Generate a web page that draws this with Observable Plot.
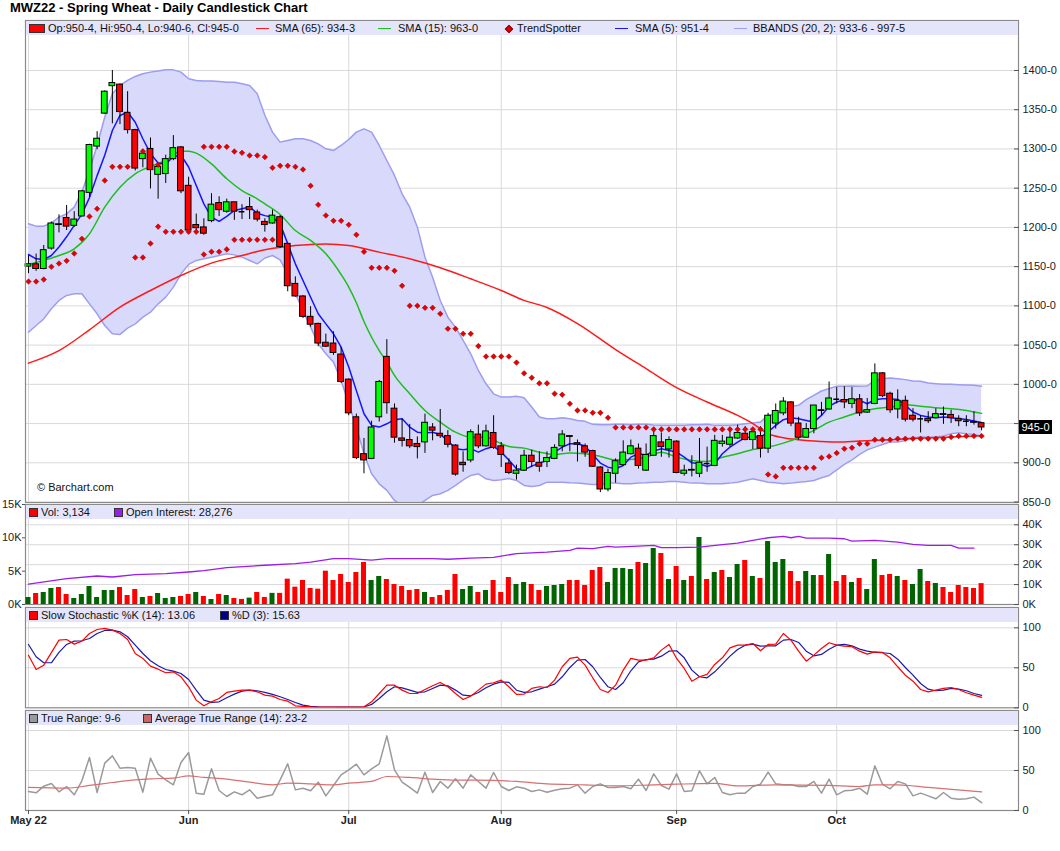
<!DOCTYPE html>
<html><head><meta charset="utf-8">
<script src="https://cdn.jsdelivr.net/npm/d3@7"></script>
<script src="https://cdn.jsdelivr.net/npm/@observablehq/plot@0.6"></script>
<style>
body{margin:0;background:#fff;font-family:"Liberation Sans",Arial,Helvetica,sans-serif;}
#wrap{position:relative;width:1060px;height:851px;overflow:hidden;background:#fff;}
#wrap svg{position:absolute;left:0;top:0;}
.title{position:absolute;left:10px;top:0px;line-height:16px;font-weight:bold;font-size:13px;color:#000;}
.band{position:absolute;left:26px;width:992px;height:14px;background:#e4e4fa;font-size:11px;color:#111;}
.band span{position:absolute;top:0;line-height:14px;white-space:nowrap;}
.band i{position:absolute;display:block;}
.sw{width:7px;height:7px;border:1px solid #333;top:3px;}
.ln{height:1px;top:7px;width:13px;}
.dm{width:4px;height:4px;top:5px;transform:rotate(45deg);background:#e00000;border:0.5px solid #8b0000;}
.tag{position:absolute;left:1019px;width:33px;height:14px;line-height:14px;background:#000;color:#fff;font-size:11px;text-align:center;}
.copy{position:absolute;left:37px;top:481px;font-size:11px;color:#111;}
</style></head>
<body><div id="wrap"></div>
<script>
// ---------- data ----------
const monthIdx = [0, 21, 42, 62, 85, 106];
const monthLabels = ["May 22", "Jun", "Jul", "Aug", "Sep", "Oct"];
const priceTicks = [850, 900, 950, 1000, 1050, 1100, 1150, 1200, 1250, 1300, 1350, 1400];

const open = [1150,1153,1147,1173,1203,1212,1202,1214,1244,1303,
1345,1380,1382,1346,1324,1287,1300,1267,1268,1287,
1302,1253,1203,1200,1208,1231,1220,1232,1220,1226,
1219,1207,1205,1213,1179,1128,1112,1086,1077,1053,
1052,1038,1006,958,911,905,958,1035,969,931,
929,924,926,945,937,934,922,900,903,936,
921,938,921,899,886,890,909,900,901,905,
921,934,925,921,915,894,866,886,897,911,
918,890,909,926,917,927,886,890,886,899,
896,924,923,931,937,929,934,918,950,963,
977,950,932,943,966,968,981,980,975,981,
964,975,1014,988,968,979,960,956,956,957,
961,961,956,953,952,950.5];
const high = [1164,1166,1177,1207,1216,1228,1220,1247,1306,1322,
1374,1400,1383,1373,1325,1299,1314,1281,1292,1317,
1303,1264,1217,1211,1243,1239,1236,1232,1229,1238,
1222,1211,1222,1215,1180,1137,1113,1099,1078,1064,
1067,1047,1007,962,931,953,1005,1057,975,956,
949,933,962,950,968,941,923,914,942,948,
948,960,926,905,897,916,916,914,914,923,
941,934,929,924,916,895,892,905,928,929,
924,924,941,938,933,928,897,909,931,920,
935,935,945,948,946,943,946,963,975,983,
978,958,950,973,977,1003,996,997,996,987,
982,1026,1015,990,993,985,969,960,965,969,
971,967,960,960,965,950.5];
const low = [1141,1144,1146,1171,1193,1196,1200,1213,1238,1299,
1344,1332,1331,1319,1272,1276,1249,1236,1256,1285,
1243,1191,1194,1190,1206,1214,1218,1209,1210,1210,
1207,1194,1204,1173,1118,1111,1084,1073,1048,1047,
1037,1001,960,904,886,904,952,962,925,920,
918,905,912,928,931,919,883,888,900,918,
920,917,894,885,878,889,894,888,894,904,
914,914,901,907,894,862,863,874,896,910,
892,889,908,907,906,886,883,882,881,888,
895,920,920,930,928,917,906,912,943,960,
946,929,931,937,960,967,975,969,969,959,
963,974,983,963,956,952,952,938,950,956,
949,950,946,946,948,940.75];
const close = [1153,1147,1171,1205,1204,1201,1210,1246,1305,1313,
1373,1384,1347,1324,1275,1294,1273,1277,1287,1301,
1246,1196,1199,1192,1229,1222,1232,1220,1220,1222,
1210,1203,1215,1175,1125,1112,1086,1076,1052,1048,
1040,1003,963,906,903,945,1003,976,932,928,
921,920,951,941,934,923,885,897,939,921,
940,919,910,887,890,909,901,895,906,919,
936,933,923,913,895,866,887,902,913,921,
896,910,934,920,929,887,890,891,900,899,
928,927,932,938,929,939,918,960,966,978,
950,932,943,973,967,982,981,977,981,963,
967,1014,985,967,979,955,955,956,953,962,
962,957,953,953,951,945];

const sma5 = [1165.5,1160,1159,1164.2,1175,1188,1202.5,1217,1238,1266,
1292,1323.5,1342.7,1347,1334,1313,1294,1282,1281,1290,
1292,1277,1253.4,1230,1213,1207.6,1214,1221.6,1223.7,1226,
1218,1215,1213,1204.6,1179,1153.6,1132.4,1111,1090,1077,
1064.4,1047.4,1022,992,962.5,947.6,945.5,949.7,955,956,
945.5,939,938,939,936,928.5,918,916.6,918,913.6,
918,920.8,913.6,903.5,892.4,891,895.8,899.6,903,913.6,
920,924.3,924.3,921.3,910.7,899.6,894.5,892.4,896.6,907.2,
911.5,910,914.9,917.9,915.8,913.6,907.2,900,898.7,895.3,
898.7,911.5,920,926.4,932,932.8,932.8,939.2,947.7,954.9,
957.5,956.2,954,951.9,960.4,971.9,977.5,980.4,980.4,979.6,
975.3,980.4,981.7,981.7,980.8,973.2,964.7,960.4,958.3,957.4,
958.3,957.4,956.2,955.3,953.2,951.5];
const sma15 = [[0,1152.8],[2,1158],[4,1164.2],[6,1172.7],[8,1191.8],[10,1225.8],[12,1251.3],[14,1268.3],[16,1277.7],[18,1285.3],
[20,1297.2],[21,1297.2],[22,1294.6],[24,1281],[26,1262],[28,1247],[30,1236.4],[31,1230],[33,1216.5],[35,1196],
[37,1183.4],[39,1166.4],[41,1140],[42,1124],[43,1104],[44,1080],[45,1060],[46,1043],[47,1028.3],[48,1011.3],
[50,988],[52,966.7],[54,951.8],[56,939],[58,932.7],[60,932.7],[62,924.2],[63,920.8],[65,918.7],[67,913.6],
[69,910.7],[71,912.4],[73,911.5],[75,908.1],[77,903.8],[79,904.3],[81,907.2],[83,913.6],[85,907.2],[87,903],
[89,901.7],[91,907.2],[93,911.5],[95,917],[97,920],[99,925.1],[101,932],[103,941.3],[105,951.9],[107,958.3],
[109,964.7],[111,969],[113,971.1],[115,974.1],[117,972],[119,970.2],[121,969],[123,966.8],[125,963]];
const sma65 = [[0,1027],[4,1043],[8,1069.5],[12,1098.4],[16,1119.6],[20,1138.7],[24,1154.5],[28,1164.2],[31,1171.5],[35,1177],
[39,1179],[42,1177],[46,1168.5],[50,1160],[54,1148.5],[58,1134.5],[62,1119.6],[65,1107],[68,1097.9],[72,1077.4],
[77,1044.3],[81,1020],[85,995.8],[89,977.5],[93,960.4],[95,950],[97,937],[99,932],[101,929.4],[103,927.7],
[106,926.4],[109,927.7],[113,929.4],[117,931.5],[121,932.8],[125,934.375]];

const bbUpper = [1204.6,1201.6,1201.6,1205.4,1213,1217.3,1225.8,1245,1272.6,1304.4,
1340.5,1370.3,1380.9,1387.3,1392.4,1395.8,1397.9,1399.2,1400.8,1400.8,
1397.9,1389.4,1387.3,1386.5,1386.5,1386,1385.1,1385.1,1383,1380.9,
1370.3,1343,1321.4,1308.7,1310.8,1312.9,1312.9,1310.8,1306.5,1300.2,
1298,1304.4,1312,1321.4,1325.6,1321.4,1304.4,1285.3,1266.2,1242.8,
1225.8,1200.3,1162.1,1136.6,1106.9,1085.6,1072.9,1055.9,1038.9,1017.7,
1000.7,987.9,983.7,983.8,984.7,983,971.1,958.3,956.2,956.2,
957.5,956.2,954,952.8,949,948.5,948.5,949,949,948.5,
949,949,948.1,947.7,947.7,947.7,947.7,948.5,948.5,949,
947.7,947.7,947.7,948.5,949.8,950.6,951.9,960.4,962.6,966.8,
971.9,973.2,980.4,986,991.5,994.5,997.5,997.5,997.9,997.5,
997.9,1005,1007.2,1008,1007.2,1006,1004.3,1004,1001.7,1000.9,
1000,1000,999.6,999.2,998.7,997.625];
const bbLower = [1066.5,1075,1083.5,1096.3,1106.9,1113.3,1115.4,1115.4,1102.6,1089.9,
1075,1064.4,1063.6,1071.6,1077.1,1085.6,1092,1102.6,1111.1,1123.9,
1140.9,1152.8,1157.9,1160,1162.1,1164.2,1166.4,1165,1162.1,1157.9,
1153.6,1161,1164.2,1158.7,1140.9,1115.4,1094.1,1072.9,1051.7,1038.9,
1028.3,1005,975.2,945.5,911.5,886,873.2,864.8,852,846,
843,846,852,858.4,860.5,864.8,871.1,878.3,883.9,886,
879.6,877.5,878.3,880,877.5,871.1,869.8,871.1,875.3,875.3,
875.3,874.5,874.1,873.2,872.4,872.4,874.1,874.1,873.2,873.2,
874.1,874.5,875.3,875.3,876.2,876.2,875.3,874.1,874.1,873.2,
873.2,873.2,874.1,875.3,877.5,879.6,877.5,875.3,874.5,873.2,
874.1,875.3,876.2,877.5,880.9,883.9,891.1,897.9,903.8,910.7,
916.6,920,923.4,926.4,926.4,928.5,932,932.8,932.8,932.8,
934.1,937,938.3,937,936.2,933.75];

const tsLower = [[0,1131],[1,1131],[2,1133.6],[3,1149.8],[4,1154],[5,1157.4],[6,1166.8],[7,1185.5],[8,1214],[9,1223.7],
[10,1259.8],[11,1277.2],[12,1277.2],[13,1277.2],[14,1161.7],[15,1161.7],[16,1179.5],[17,1201],[18,1194.4],[19,1194.4],
[20,1194.4],[21,1194.4],[22,1194.4],[23,1165.5],[24,1169],[25,1169],[26,1172],[27,1184.2],[28,1184.2],[29,1184.2],
[30,1184.2],[31,1184.2],[32,1184.2],
[97,885.1],[98,882.6],[99,893.6],[100,893.6],[101,893.6],[102,893.6],[103,893.6],[104,906.4],[105,908.1],[106,912.4],
[107,917.9],[108,919.2],[109,924.3],[110,924.3],[111,929.4],[112,929.4],[113,929.4],[114,930.7],[115,930.7],[116,930.7],
[117,930.7],[118,930.7],[119,930.7],[120,930.7],[121,932.8],[122,934.1],[123,934.1],[124,934.1],[125,934.1]];
const tsUpper = [[15,1297],[17,1280],[23,1302.7],[24,1302.7],[25,1302.7],[26,1302.7],[27,1296.8],[28,1295],[29,1291.7],[30,1291.7],
[31,1289.6],[32,1276],[33,1278.5],[34,1278.5],[35,1277.2],[36,1273.8],[37,1253],[38,1228.8],[39,1215.2],[40,1208.4],
[41,1208.4],[42,1203.3],[43,1190.6],[44,1168.9],[45,1148.5],[46,1148.5],[47,1148.5],[48,1144.7],[49,1125.6],[50,1100.1],
[51,1100.1],[52,1097.5],[53,1097.5],[54,1089.9],[55,1070.8],[56,1070.8],[57,1064.4],[58,1064.4],[59,1048.7],[60,1035.5],
[61,1035.5],[62,1035.5],[63,1035.5],[64,1027.7],[65,1014],[66,1008.5],[67,1001.3],[68,1001.3],[69,988.1],[70,986.8],
[71,975.3],[72,966.8],[73,966.8],[74,963.8],[75,963.8],[76,957.5],[77,945.1],[78,945.1],[79,945.1],[80,945.1],
[81,945.1],[82,942.6],[83,942.6],[84,942.6],[85,942.6],[86,942.6],[87,942.6],[88,942.6],[89,942.6],[90,942.6],
[91,942.6],[92,942.6],[93,942.6],[94,942.6],[95,942.6],[96,942.6]];

// volume in thousands, direction G = up day, R = down day
const volume = [1.05,1.65,1.8,2.4,2.55,1.5,0.9,1.5,2.7,1.05,
2.1,2.1,2.55,1.35,2.25,1.05,1.2,1.65,0.9,1.05,
1.2,1.5,1.8,1.2,0.75,1.5,1.35,0.9,0.76,0.96,
1.8,1.06,1.67,1.67,3.8,2.6,3.6,2.4,2.3,5.0,
3.6,4.5,3.3,4.8,6.3,3.6,4.2,3.75,3.0,2.7,
2.1,2.25,1.8,1.05,1.35,2.1,4.5,2.25,2.7,1.8,
2.1,3.6,1.8,4.05,3.0,3.3,3.0,2.1,2.7,2.85,
3.0,3.6,3.6,2.85,5.1,5.55,3.3,5.4,5.4,5.25,
6.3,6.15,8.4,7.65,3.75,5.7,3.6,4.2,10.05,3.75,
4.8,5.1,4.05,6.0,6.6,4.2,3.9,9.45,6.3,6.75,
4.95,3.45,4.95,4.35,4.35,7.5,3.45,4.35,3.3,3.9,
2.25,6.75,4.35,4.5,4.2,3.6,3.0,5.25,3.45,3.15,
2.55,1.8,2.85,2.55,2.4,3.134];
const volDir = "GRGGRRGGGG" + "GGRRRGRGGG" + "RRGRGRGRRG" + "RRGRRRRRRR" + "RRRRRGGRRR" +
  "RRGRRRRGGR" + "GRRRGGRRGG" + "GRRRRRGGGG" + "RGGRGRGRGR" + "GRGGRGRGGG" +
  "RRGGRGRRGR" + "GGRRGRGGRG" + "RRRRRR";
// open interest in thousands
const openInterest = [[0,10.2],[5,13.0],[9,14.3],[11,13.8],[14,15.0],[18,15.5],[21,16.3],[23,17.0],[26,18.5],[31,19.7],
[35,20.5],[37,21.3],[40,23.0],[42,23.0],[45,22.3],[47,23.0],[53,23.0],[55,22.7],[58,23.3],[61,23.7],
[64,25.5],[68,26.3],[71,27.2],[72,28.3],[74,28.0],[76,29.2],[77,28.8],[80,29.3],[82,29.7],[83,28.5],
[85,28.5],[88,28.8],[91,30.0],[93,30.8],[95,32.2],[97,33.5],[99,34.2],[100,33.5],[101,34.2],[102,33.3],
[105,33.3],[107,33.0],[108,31.8],[111,32.2],[114,31.3],[116,30.2],[118,29.7],[121,29.7],[122,28.3],[124,28.276]];

const stochK = [65.8,47.9,53.3,69,84.6,85.4,79.6,83.3,92.9,97.9,
99.2,97.1,92.9,85.4,67.9,61.7,52.1,48.3,43.8,45,
38.8,26.3,9.6,2.5,7.5,11.7,19.2,20.8,22.1,22.1,
20,15.8,14.6,10.4,8.3,2.5,1.7,1.2,1,1,
1,0.8,0.8,0.8,1.2,7.5,17.9,28.3,28.3,22.1,
17.9,17.9,22.9,27.5,31.7,26.3,17.9,10.4,14.6,22.1,
29.6,31.3,34.6,26.3,16.7,17.1,24.2,26.3,25.4,34.6,
51.3,61.7,63.3,53.3,37.5,22.9,19.2,28.3,47.1,61.7,
59.6,59.6,62.5,72.1,79.2,61.7,49.2,33.3,38.8,41.7,
54.2,62.5,75,78.3,78.3,80.4,71.3,79.2,79.6,92.9,
84.6,70.8,58.3,65.8,74.2,81.3,78.3,77.1,76.3,70.8,
67.1,70,69.2,62.5,51.3,40.8,33.3,22.9,20,22.1,
24.2,25.4,22.9,18.8,15.8,13.06];
const stochD = [79.2,63.8,56.3,56.3,69.2,79.2,83.3,83.8,86.7,92.9,
96.7,97.1,95,88.8,78.3,67.9,58.8,52.5,47.9,45.8,
42.9,35.4,22.1,9.6,6.7,7.5,12.5,17.1,20.8,22.1,
21.3,19.2,16.7,13.8,10.4,6.7,3.3,1.7,1.2,1,
1,0.9,0.8,0.8,1,4.2,11.7,20,26.3,25,
22.1,19.2,20,24.2,28.3,27.5,22.1,15.8,15,19.2,
25,29.6,32.5,31.7,22,19.2,20,23.3,26.3,29.6,
38.8,50.4,59.6,60.4,51.3,37.9,26.3,22.9,31.3,46.3,
57.5,60.4,60.8,64.6,70.8,71.3,62.5,47.1,38.8,37.5,
45,54.6,64.6,72.9,78.3,79.6,77.1,77.5,77.5,84.6,
85.4,81.7,70.8,65,66.7,73.3,78.3,79.2,77.5,73.3,
70.8,69.2,68.8,67.9,60.8,50.4,40.8,30.4,23.3,21.3,
22.1,24.2,23.3,21.3,17.9,15.63];

const trueRange = [23.8,22.1,30.4,33.8,23.3,30,19.6,37.1,66.3,22.5,
59.2,68.3,52.9,53.8,52.9,22.9,65.4,45.4,38.3,32.1,
60,72.5,21.7,20.4,52.1,25,17.5,23.3,19.6,25.8,
15.4,17.5,19.6,38.3,58.3,25.8,27.9,24.6,35.4,18.3,
31.3,44.6,50.8,57.9,44.6,52.1,58.3,93.3,50.8,35.4,
28.8,21.7,47.9,22.5,36.3,27.9,39.6,27.9,44.6,36.3,
27.9,47.5,30,25,29.6,27.9,23.8,25.8,22.9,25.4,
27.1,27.9,32.1,21.7,30,33.3,28.8,28.8,30,27.1,
39.2,25,45.8,31.3,26.7,45.8,23.8,24.6,49.6,33.3,
41.3,22.5,19.6,21.7,21.7,30,32.9,47.9,33.3,32.1,
32.1,30,30,36.3,21.7,39.2,19.6,24.6,25.4,27.9,
20.4,55.8,32.9,27.1,36.3,33.3,18.3,21.7,18.3,14.6,
22.5,15.4,14.2,14.6,16.7,9.75];
const avgTrueRange = [[0,28.8],[5,27.9],[8,31.3],[11,35],[14,38.3],[16,39.6],[19,40.4],[21,43.3],[23,41.3],[26,39.2],
[29,35.4],[32,32.1],[34,34.2],[37,33.3],[40,32],[42,34.2],[45,36.3],[47,42.5],[50,41.3],[53,39.2],
[56,37.9],[59,37.9],[64,36.3],[68,33.3],[73,32.1],[77,30.8],[82,32.1],[85,32.9],[90,33.8],[93,30.8],
[98,32.1],[105,31.3],[109,30],[111,32.1],[114,32.1],[118,28.8],[125,23.25]];

// ---------- helpers ----------
const eighths = v => Math.floor(v) + "-" + Math.round((v - Math.floor(v)) * 8);
const last = close.length - 1;
const days = d3.range(close.length);
const candles = days.map(i => ({i, o: open[i], h: high[i], l: low[i], c: close[i]}));

const wrap = document.getElementById("wrap");
const FONT = '"Liberation Sans", Arial, Helvetica, sans-serif';
const XDOM = [-0.392, 129.84];
const GRID = {stroke: "#d9d9d9", strokeOpacity: 1};
const FRAME = {stroke: "#8a8a8a", strokeWidth: 1.2};

function layer(opts) {
  const svg = Plot.plot(Object.assign({
    width: 1060, height: 851, marginLeft: 25, marginRight: 42,
    x: {type: "linear", domain: XDOM, axis: null},
    color: {type: "identity"},
    style: {background: "transparent", fontFamily: FONT, fontSize: "11px", color: "#222", overflow: "visible"}
  }, opts));
  wrap.appendChild(svg);
  return svg;
}
function rightAxis(ticks, fmt, labelTicks = ticks) {
  return [
    Plot.axisY(ticks, {anchor: "right", tickSize: 5, dx: -5, tickFormat: () => "", stroke: "#555", label: null}),
    Plot.axisY(labelTicks, {anchor: "right", tickSize: 0, tickPadding: 4, tickFormat: fmt, fill: "#222", label: null})
  ];
}

// ---------- title ----------
wrap.insertAdjacentHTML("beforeend", `<div class="title">MWZ22 - Spring Wheat - Daily Candlestick Chart</div>`);

// the last-price tag covers the tick label next to it, as in the original
const priceLabelTicks = priceTicks.filter(t => Math.abs(t - close[last]) > 10);

// ---------- main price panel ----------
const mainSvg = layer({
  marginTop: 20, marginBottom: 851 - 502,
  y: {domain: [849.4, 1463.7], axis: null},
  marks: [
    Plot.gridY(priceTicks, GRID),
    Plot.gridX(monthIdx, GRID),
    Plot.areaY(days, {x: i => i, y1: i => bbLower[i], y2: i => bbUpper[i], fill: "#d9d9fc", clip: true}),
    Plot.lineY(days, {x: i => i, y: i => bbUpper[i], stroke: "#9d9df0", clip: true}),
    Plot.lineY(days, {x: i => i, y: i => bbLower[i], stroke: "#9d9df0", clip: true}),
    Plot.line(sma65, {x: d => d[0], y: d => d[1], stroke: "#ff1a1a", curve: "monotone-x"}),
    Plot.line(sma15, {x: d => d[0], y: d => d[1], stroke: "#1cbf1c", curve: "monotone-x"}),
    Plot.lineY(days, {x: i => i, y: i => sma5[i], stroke: "#1414ff"}),
    Plot.ruleX(candles, {x: "i", y1: "l", y2: "h", stroke: "#000"}),
    Plot.rect(candles, {x1: d => d.i - 0.38, x2: d => d.i + 0.38, y1: "o", y2: "c",
      fill: d => d.c >= d.o ? "#00ff00" : "#ff0000", stroke: "#000"}),
    Plot.ruleY(candles.filter(d => d.o === d.c), {x1: d => d.i - 0.38, x2: d => d.i + 0.38, y: "c", stroke: "#000", strokeWidth: 1.5}),
    Plot.dot(tsLower.concat(tsUpper), {x: d => d[0], y: d => d[1], symbol: "square", rotate: 45, r: 2.2,
      fill: "#e60000", stroke: "#a00000", strokeWidth: 0.5}),
    Plot.frame(FRAME),
    ...rightAxis(priceTicks, d => d + "-0", priceLabelTicks)
  ]
});

// ---------- volume / open interest ----------
layer({
  marginTop: 504, marginBottom: 851 - 604,
  y: {domain: [0, 50.19], axis: null},
  marks: [
    Plot.gridY([10, 20, 30, 40], GRID),
    Plot.gridX(monthIdx, GRID),
    Plot.frame(FRAME),
    ...rightAxis([0, 10, 20, 30, 40], d => d + "K")
  ]
});
layer({
  marginTop: 504, marginBottom: 851 - 604,
  y: {domain: [0, 15], axis: null},
  marks: [
    Plot.rect(days, {x1: i => i - 0.33, x2: i => i + 0.33, y1: 0, y2: i => volume[i],
      fill: i => volDir[i] === "G" ? "#006400" : "#ff0000"}),
    Plot.axisY([0, 5, 10, 15], {anchor: "left", tickSize: 3, tickPadding: 1, tickFormat: d => d + "K", fill: "#222", stroke: "#555", label: null})
  ]
});
layer({
  marginTop: 504, marginBottom: 851 - 604,
  y: {domain: [0, 50.19], axis: null},
  marks: [Plot.line(openInterest, {x: d => d[0], y: d => d[1], stroke: "#9a1cf0", strokeWidth: 1.3})]
});

// ---------- slow stochastic ----------
layer({
  marginTop: 607, marginBottom: 851 - 707.3,
  y: {domain: [0, 125.4], axis: null},
  marks: [
    Plot.gridY([50, 100], GRID),
    Plot.gridX(monthIdx, GRID),
    Plot.lineY(days, {x: i => i, y: i => stochD[i], stroke: "#1a1aa8", strokeWidth: 1.2}),
    Plot.lineY(days, {x: i => i, y: i => stochK[i], stroke: "#ff0000", strokeWidth: 1.2}),
    Plot.frame(FRAME),
    ...rightAxis([0, 50, 100], d => d)
  ]
});

// ---------- true range ----------
layer({
  marginTop: 710, marginBottom: 851 - 810,
  x: {type: "linear", domain: XDOM},
  y: {domain: [0, 125], axis: null},
  marks: [
    Plot.gridY([50, 100], GRID),
    Plot.gridX(monthIdx, GRID),
    Plot.lineY(days, {x: i => i, y: i => trueRange[i], stroke: "#9a9a9a"}),
    Plot.line(avgTrueRange, {x: d => d[0], y: d => d[1], stroke: "#d77070", strokeWidth: 1.2, curve: "monotone-x"}),
    Plot.frame(FRAME),
    ...rightAxis([0, 50, 100], d => d),
    Plot.axisX(monthIdx, {anchor: "bottom", tickSize: 4, tickPadding: 2, stroke: "#555", fill: "#222",
      fontWeight: "bold", label: null, tickFormat: i => monthLabels[monthIdx.indexOf(i)]})
  ]
});

// ---------- legends & annotations ----------
const fmtK = d3.format(",");
wrap.insertAdjacentHTML("beforeend", `
<div class="band" style="top:21px">
  <i class="sw" style="left:3px;width:14px;background:#ff0000"></i>
  <span style="left:22px">Op:${eighths(open[last])}, Hi:${eighths(high[last])}, Lo:${eighths(low[last])}, Cl:${eighths(close[last])}</span>
  <i class="ln" style="left:230px;background:#ff1a1a"></i><span style="left:249px">SMA (65): ${eighths(sma65[sma65.length-1][1])}</span>
  <i class="ln" style="left:352px;background:#1cbf1c"></i><span style="left:372px">SMA (15): ${eighths(sma15[sma15.length-1][1])}</span>
  <i class="dm" style="left:480px"></i><span style="left:491px">TrendSpotter</span>
  <i class="ln" style="left:589px;background:#1414ff"></i><span style="left:609px">SMA (5): ${eighths(sma5[last])}</span>
  <i class="ln" style="left:708px;background:#9d9df0"></i><span style="left:727px">BBANDS (20, 2): ${eighths(bbLower[last])} - ${eighths(bbUpper[last])}</span>
</div>
<div class="band" style="top:505px">
  <i class="sw" style="left:3px;background:#ff0000"></i><span style="left:15px">Vol: ${fmtK(Math.round(volume[last]*1000))}</span>
  <i class="sw" style="left:88px;background:#9a1cf0"></i><span style="left:100px">Open Interest: ${fmtK(Math.round(openInterest[openInterest.length-1][1]*1000))}</span>
</div>
<div class="band" style="top:608px">
  <i class="sw" style="left:3px;background:#ff0000"></i><span style="left:15px">Slow Stochastic %K (14): ${stochK[last].toFixed(2)}</span>
  <i class="sw" style="left:194px;background:#000080"></i><span style="left:206px">%D (3): ${stochD[last].toFixed(2)}</span>
</div>
<div class="band" style="top:711px">
  <i class="sw" style="left:3px;background:#9a9a9a"></i><span style="left:15px">True Range: ${eighths(trueRange[last])}</span>
  <i class="sw" style="left:117px;background:#cc6666"></i><span style="left:129px">Average True Range (14): ${eighths(avgTrueRange[avgTrueRange.length-1][1])}</span>
</div>
<div class="copy">&copy; Barchart.com</div>`);

const yMain = mainSvg.scale("y");
const tag = document.createElement("div");
tag.className = "tag";
tag.textContent = eighths(close[last]);
tag.style.top = (yMain.apply(close[last]) - 7) + "px";
wrap.appendChild(tag);
</script>
</body></html>
